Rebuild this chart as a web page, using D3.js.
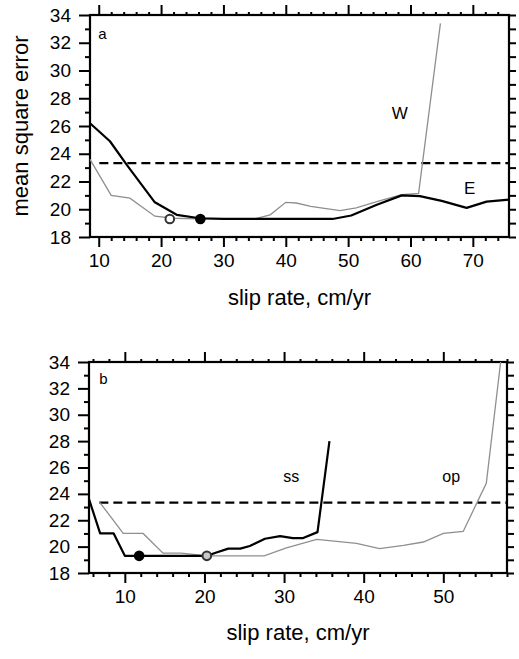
<!DOCTYPE html>
<html><head><meta charset="utf-8">
<script src="https://cdn.jsdelivr.net/npm/d3@7"></script>
<style>
html,body{margin:0;padding:0;background:#fff;}
svg{display:block;font-family:"Liberation Sans",Arial,Helvetica,sans-serif;}
</style></head>
<body><svg id="c" width="519" height="659"></svg>
<script>
// Panel a data
const aE_x = [8.6, 11.8, 14.5, 19.0, 22.5, 26.2, 30, 35, 40, 47.5, 50.5, 54.5, 58.6, 61.5, 65, 69, 72.2, 75.8];
const aE_y = [26.2, 24.9, 23.2, 20.5, 19.6, 19.35, 19.3, 19.3, 19.3, 19.3, 19.55, 20.3, 21.0, 20.95, 20.6, 20.1, 20.55, 20.7];
const aW_x = [8.6, 12.0, 15.0, 19.0, 22.0, 26, 30, 35, 37.5, 40, 41.7, 44, 48.7, 51.3, 55, 58.6, 61.3, 64.8];
const aW_y = [23.6, 21.0, 20.8, 19.5, 19.35, 19.3, 19.3, 19.3, 19.6, 20.5, 20.45, 20.2, 19.9, 20.1, 20.6, 21.05, 21.15, 33.4];
const aOpen = [21.4, 19.3];
const aFilled = [26.3, 19.3];
const aXTicks = [10, 20, 30, 40, 50, 60, 70];

// Panel b data
const bSS_x = [5.5, 6.9, 8.6, 10.0, 12, 15, 20.3, 21.5, 23, 24.5, 25.7, 27.6, 29.5, 31.1, 32.4, 34.2, 35.7];
const bSS_y = [23.6, 21.0, 21.0, 19.3, 19.3, 19.3, 19.3, 19.55, 19.85, 19.85, 20.05, 20.6, 20.8, 20.65, 20.65, 21.1, 28.0];
const bOP_x = [6.8, 9.8, 12.3, 14.8, 17.1, 20.3, 24, 27.5, 30.3, 34.1, 36.6, 39.1, 42.0, 45.0, 47.5, 50.0, 52.5, 54.2, 55.4, 57.2];
const bOP_y = [23.4, 21.0, 21.0, 19.5, 19.5, 19.3, 19.3, 19.3, 19.9, 20.55, 20.4, 20.25, 19.85, 20.1, 20.35, 21.0, 21.15, 23.3, 24.8, 34.0];
const bOpen = [20.3, 19.3];
const bFilled = [11.8, 19.3];
const bXTicks = [10, 20, 30, 40, 50];

const yTicks = [18, 20, 22, 24, 26, 28, 30, 32, 34];
const threshold = 23.33;

const svg = d3.select("#c");

function panel(cfg) {
  const x = d3.scaleLinear().domain(cfg.xDom).range([cfg.left, cfg.right]);
  const y = d3.scaleLinear().domain([18, 34]).range([cfg.bottom, cfg.top]);
  const g = svg.append("g");
  const minorX = d3.range(Math.ceil(cfg.xDom[0] / 2) * 2, cfg.xDom[1] + 0.001, 2).filter(v => v % 10 !== 0);
  const minorY = d3.range(19, 34, 2);
  const allY = d3.range(18, 34.001, 1);

  function style(sel) {
    sel.select(".domain").remove();
    sel.selectAll("line").attr("stroke", "#000").attr("stroke-width", 2);
    sel.selectAll("text").attr("fill", "#000").attr("font-size", 19)
      .attr("font-family", "'Liberation Sans',Arial,Helvetica,sans-serif");
  }
  // bottom
  g.append("g").attr("transform", `translate(0,${cfg.bottom})`)
    .call(d3.axisBottom(x).tickValues(cfg.xTicks).tickSize(10).tickPadding(7).tickFormat(d3.format("d"))).call(style);
  g.append("g").attr("transform", `translate(0,${cfg.bottom})`)
    .call(d3.axisBottom(x).tickValues(minorX).tickSize(4).tickFormat("")).call(style);
  // top
  g.append("g").attr("transform", `translate(0,${cfg.top})`)
    .call(d3.axisTop(x).tickValues(cfg.xTicks).tickSize(10).tickFormat("")).call(style);
  g.append("g").attr("transform", `translate(0,${cfg.top})`)
    .call(d3.axisTop(x).tickValues(minorX).tickSize(3).tickFormat("")).call(style);
  // left
  g.append("g").attr("transform", `translate(${cfg.left},0)`)
    .call(d3.axisLeft(y).tickValues(yTicks).tickSize(11).tickPadding(8).tickFormat(d3.format("d"))).call(style);
  g.append("g").attr("transform", `translate(${cfg.left},0)`)
    .call(d3.axisLeft(y).tickValues(minorY).tickSize(5).tickFormat("")).call(style);
  // right
  g.append("g").attr("transform", `translate(${cfg.right},0)`)
    .call(d3.axisRight(y).tickValues(allY).tickSize(7).tickFormat("")).call(style);
  // frame
  g.append("rect").attr("x", cfg.left).attr("y", cfg.top)
    .attr("width", cfg.right - cfg.left).attr("height", cfg.bottom - cfg.top)
    .attr("fill", "none").attr("stroke", "#000").attr("stroke-width", 2.2);

  const line = d3.line().x(d => x(d[0])).y(d => y(d[1]));
  // dashed threshold
  g.append("path").datum([[cfg.dashStart, threshold], [cfg.xDom[1], threshold]])
    .attr("d", line).attr("fill", "none").attr("stroke", "#000")
    .attr("stroke-width", 2.3).attr("stroke-dasharray", "9,5");
  // gray series
  g.append("path").datum(d3.zip(cfg.grayX, cfg.grayY)).attr("d", line)
    .attr("fill", "none").attr("stroke", "#8f8f8f").attr("stroke-width", 1.3);
  // black series
  g.append("path").datum(d3.zip(cfg.blackX, cfg.blackY)).attr("d", line)
    .attr("fill", "none").attr("stroke", "#000").attr("stroke-width", 2.2).attr("stroke-linejoin", "round");
  // circles
  g.append("circle").attr("cx", x(cfg.open[0])).attr("cy", y(cfg.open[1])).attr("r", 4.3)
    .attr("fill", cfg.openFill).attr("stroke", "#333").attr("stroke-width", 2);
  g.append("circle").attr("cx", x(cfg.filled[0])).attr("cy", y(cfg.filled[1])).attr("r", 5.3)
    .attr("fill", "#000");
  // labels
  cfg.labels.forEach(l => {
    g.append("text").attr("x", x(l.x)).attr("y", y(l.y)).attr("font-size", l.size)
      .attr("text-anchor", "middle").attr("fill", "#000").text(l.t);
  });
  // x title
  g.append("text").attr("x", (cfg.left + cfg.right) / 2).attr("y", cfg.titleY)
    .attr("text-anchor", "middle").attr("font-size", 22).attr("fill", "#000").text("slip rate, cm/yr");
  return {x, y};
}

panel({
  left: 90, right: 509, top: 15, bottom: 237,
  xDom: [8.6, 75.8], xTicks: aXTicks, dashStart: 10.1,
  blackX: aE_x, blackY: aE_y, grayX: aW_x, grayY: aW_y,
  open: aOpen, filled: aFilled, openFill: "#fff",
  titleY: 305,
  labels: [{t: "a", x: 10.6, y: 32.3, size: 15}, {t: "W", x: 58.3, y: 26.5, size: 17}, {t: "E", x: 69.5, y: 21.1, size: 17}]
});

panel({
  left: 89, right: 507, top: 362, bottom: 573,
  xDom: [5.5, 58.0], xTicks: bXTicks, dashStart: 6.8,
  blackX: bSS_x, blackY: bSS_y, grayX: bOP_x, grayY: bOP_y,
  open: bOpen, filled: bFilled, openFill: "#c8c8c8",
  titleY: 640,
  labels: [{t: "b", x: 7.3, y: 32.3, size: 15}, {t: "ss", x: 30.9, y: 24.9, size: 16}, {t: "op", x: 51.0, y: 24.9, size: 16}]
});

// y axis title (panel a)
svg.append("text").attr("transform", "translate(28,126) rotate(-90)")
  .attr("text-anchor", "middle").attr("font-size", 22).attr("fill", "#000").text("mean square error");
</script></body></html>
